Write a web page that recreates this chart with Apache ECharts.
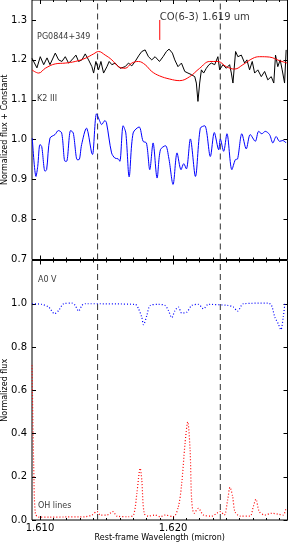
<!DOCTYPE html>
<html><head><meta charset="utf-8">
<script src="https://cdn.jsdelivr.net/npm/echarts@6/dist/echarts.min.js"></script>
<style>html,body{margin:0;padding:0;background:#fff}#c{width:289px;height:545px}</style>
</head><body><div id="c"></div>
<script>
// ---------- DATA ----------
const xMin = 1.6094, xMax = 1.6286;
const xMajorTicks = [1.610, 1.620];
const xMinorTicks = [1.610,1.611,1.612,1.613,1.614,1.615,1.616,1.617,1.618,1.619,1.620,1.621,1.622,1.623,1.624,1.625,1.626,1.627,1.628];
const yTopTicks = [0.7, 0.8, 0.9, 1.0, 1.1, 1.2, 1.3];
const yBotTicks = [0.0, 0.2, 0.4, 0.6, 0.8, 1.0];
const dashedLines = [1.61433, 1.62355];

// PG0844+349 (black)
const wavePG = [1.60940,1.60977,1.61002,1.61028,1.61053,1.61075,1.61115,1.61140,1.61165,1.61190,1.61215,1.61240,1.61270,1.61290,1.61315,1.61340,1.61365,1.61390,1.61403,1.61420,1.61440,1.61458,1.61478,1.61503,1.61520,1.61540,1.61565,1.61602,1.61640,1.61665,1.61690,1.61715,1.61745,1.61765,1.61790,1.61815,1.61840,1.61865,1.61898,1.61925,1.61950,1.61970,1.61995,1.62013,1.62037,1.62063,1.62088,1.62112,1.62138,1.62163,1.62175,1.62187,1.62200,1.62213,1.62230,1.62250,1.62270,1.62288,1.62313,1.62337,1.62350,1.62375,1.62400,1.62425,1.62438,1.62450,1.62470,1.62487,1.62513,1.62538,1.62555,1.62575,1.62595,1.62613,1.62637,1.62663,1.62688,1.62712,1.62738,1.62757,1.62770,1.62787,1.62805,1.62820,1.62838,1.62850];
const fluxPG = [1.204,1.180,1.208,1.188,1.205,1.188,1.217,1.200,1.196,1.208,1.192,1.200,1.212,1.196,1.200,1.215,1.200,1.183,1.167,1.196,1.175,1.196,1.167,1.183,1.196,1.188,1.192,1.179,1.183,1.192,1.185,1.196,1.212,1.221,1.225,1.208,1.200,1.208,1.196,1.208,1.221,1.227,1.217,1.200,1.183,1.192,1.171,1.167,1.163,1.158,1.142,1.096,1.142,1.175,1.167,1.179,1.188,1.192,1.188,1.208,1.175,1.188,1.179,1.188,1.167,1.142,1.221,1.208,1.212,1.192,1.200,1.175,1.196,1.167,1.175,1.158,1.171,1.150,1.158,1.142,1.212,1.183,1.200,1.175,1.142,1.225];

// Smoothed template (red)
const waveTpl = [1.60940,1.60990,1.61040,1.61115,1.61190,1.61265,1.61340,1.61403,1.61440,1.61490,1.61540,1.61590,1.61640,1.61690,1.61740,1.61790,1.61840,1.61898,1.61975,1.62050,1.62125,1.62200,1.62275,1.62337,1.62400,1.62463,1.62525,1.62600,1.62650,1.62725,1.62800,1.62858];
const fluxTpl = [1.175,1.167,1.179,1.190,1.192,1.196,1.204,1.215,1.221,1.212,1.200,1.183,1.179,1.192,1.196,1.188,1.171,1.160,1.152,1.148,1.158,1.179,1.196,1.196,1.183,1.177,1.188,1.204,1.208,1.207,1.198,1.192];

// K2 III (blue)
const waveK2 = [1.60942,1.60970,1.60983,1.61000,1.61013,1.61038,1.61050,1.61075,1.61113,1.61138,1.61163,1.61188,1.61200,1.61230,1.61250,1.61280,1.61293,1.61313,1.61350,1.61362,1.61388,1.61395,1.61425,1.61450,1.61463,1.61488,1.61500,1.61538,1.61563,1.61588,1.61600,1.61625,1.61645,1.61670,1.61700,1.61745,1.61775,1.61800,1.61825,1.61850,1.61880,1.61905,1.61943,1.61968,1.62000,1.62030,1.62060,1.62080,1.62100,1.62130,1.62168,1.62205,1.62238,1.62280,1.62310,1.62343,1.62355,1.62380,1.62405,1.62442,1.62468,1.62485,1.62517,1.62550,1.62580,1.62618,1.62643,1.62667,1.62693,1.62725,1.62750,1.62775,1.62800,1.62825,1.62850];
const fluxK2 = [1.004,0.908,0.933,0.988,0.983,0.921,0.925,1.004,1.013,1.023,1.017,0.946,0.946,1.023,1.017,0.950,0.950,0.988,1.029,1.017,0.967,0.963,1.065,1.046,1.038,1.048,1.042,0.967,0.954,0.952,0.946,1.035,1.017,0.907,1.017,1.032,0.996,0.992,0.925,0.992,0.904,0.975,0.985,0.954,0.888,0.967,0.925,0.940,0.927,1.002,0.908,1.029,1.035,0.958,1.018,0.975,1.002,0.971,1.015,0.925,0.950,0.952,1.015,0.977,1.013,0.996,1.021,1.015,1.021,1.013,0.992,1.008,0.996,0.998,0.992];

// A0 V (blue dotted)
const waveA0 = [1.60940,1.61015,1.61065,1.61110,1.61140,1.61178,1.61240,1.61265,1.61290,1.61315,1.61340,1.61715,1.61740,1.61765,1.61778,1.61803,1.61828,1.61890,1.61940,1.61965,1.61990,1.62015,1.62040,1.62065,1.62103,1.62140,1.62190,1.62228,1.62265,1.62415,1.62453,1.62485,1.62528,1.62715,1.62740,1.62765,1.62790,1.62810,1.62828,1.62840];
const fluxA0 = [1.000,0.997,0.985,0.954,0.969,1.000,1.003,0.992,0.966,0.992,1.000,0.997,0.977,0.938,0.903,0.946,0.992,0.997,0.992,0.969,0.936,0.969,0.985,0.957,0.961,0.992,0.997,0.977,0.997,0.992,0.985,0.966,1.000,1.003,0.992,0.938,0.908,0.880,0.938,1.000];

// OH sky lines (red dotted)
const waveOH = [1.60940,1.60953,1.60965,1.60990,1.61075,1.61188,1.61300,1.61340,1.61390,1.61428,1.61453,1.61503,1.61548,1.61578,1.61665,1.61703,1.61728,1.61753,1.61765,1.61783,1.61815,1.61865,1.61903,1.61940,1.62003,1.62040,1.62065,1.62090,1.62110,1.62128,1.62140,1.62158,1.62190,1.62228,1.62290,1.62328,1.62353,1.62385,1.62410,1.62428,1.62448,1.62465,1.62503,1.62578,1.62603,1.62623,1.62648,1.62690,1.62740,1.62790,1.62828,1.62848];
const fluxOH = [0.715,0.246,0.031,0.013,0.013,0.014,0.014,0.015,0.023,0.039,0.023,0.023,0.039,0.018,0.015,0.023,0.123,0.239,0.185,0.031,0.018,0.023,0.015,0.023,0.015,0.062,0.169,0.354,0.454,0.323,0.092,0.031,0.054,0.023,0.018,0.031,0.039,0.023,0.092,0.151,0.108,0.039,0.018,0.018,0.062,0.096,0.039,0.023,0.031,0.027,0.023,0.054];

// CO(6-3) marker
const coWave = [1.619, 1.619];
const coFlux = [1.25, 1.30];

// Text annotations (data coordinates)
const annTopText = ['PG0844+349', 'K2 III'];
const annTopX = [1.60978, 1.60978];
const annTopY = [1.2575, 1.1025];
const annBotText = ['A0 V', 'OH lines'];
const annBotX = [1.60985, 1.60985];
const annBotY = [1.112, 0.066];
const coLabel = 'CO(6-3) 1.619 um';
const coLabelPos = [1.619, 1.3075];

// ---------- CHART ----------
const zip = (a, b) => a.map((v, i) => [v, b[i]]);
const FONT = 'DejaVu Sans';
const chart = echarts.init(document.getElementById('c'), null, {renderer: 'canvas'});

function xAxis(grid, pos, ticks, len, showLabel, name) {
  return {
    type: 'value', gridIndex: grid, position: pos, min: xMin, max: xMax,
    axisLine: {show: false, onZero: false},
    splitLine: {show: false},
    axisTick: {show: true, inside: true, length: len, customValues: ticks, lineStyle: {color: '#000', width: 1}},
    axisLabel: {show: showLabel, customValues: ticks, margin: 3, color: '#000', fontFamily: FONT, fontSize: 10,
      formatter: v => v.toFixed(3)},
    name: name || '', nameLocation: 'middle', nameGap: 14, nameMoveOverlap: false,
    nameTextStyle: {color: '#000', fontFamily: FONT, fontSize: 8}
  };
}
function yAxis(grid, pos, min, max, ticks, showLabel, name) {
  return {
    type: 'value', gridIndex: grid, position: pos, min: min, max: max,
    axisLine: {show: false, onZero: false},
    splitLine: {show: false},
    axisTick: {show: true, inside: true, length: 4, customValues: ticks, lineStyle: {color: '#000', width: 1}},
    axisLabel: {show: showLabel, customValues: ticks, margin: 5, color: '#000', fontFamily: FONT, fontSize: 10,
      formatter: v => v.toFixed(1)},
    name: name || '', nameLocation: 'middle', nameGap: 23, nameRotate: 90, nameMoveOverlap: false,
    nameTextStyle: {color: '#000', fontFamily: FONT, fontSize: 8}
  };
}

function dashSeries(xi, yi, yLo, yHi) {
  return dashedLines.map(v => ({
    type: 'line', xAxisIndex: xi, yAxisIndex: yi, symbol: 'none', silent: true,
    data: [[v, yLo], [v, yHi]],
    lineStyle: {color: '#333', type: [6, 4], width: 1}, z: 2
  }));
}

function annSeries(xi, yi, xs, ys, texts, size) {
  return {
    type: 'scatter', xAxisIndex: xi, yAxisIndex: yi, symbolSize: 0, silent: true,
    data: xs.map((v, i) => ({value: [v, ys[i]], name: texts[i]})),
    label: {show: true, position: 'right', distance: 0, formatter: p => p.name,
      color: '#000', fontFamily: FONT, fontSize: size}
  };
}

const gridBase = {left: 32, width: 255.5, height: 259.5, show: true, borderColor: '#000', borderWidth: 1,
  backgroundColor: 'transparent', containLabel: false, outerBoundsMode: 'none'};

chart.setOption({
  animation: false,
  backgroundColor: '#fff',
  grid: [
    Object.assign({top: 0}, gridBase),
    Object.assign({top: 260.5}, gridBase)
  ],
  xAxis: [
    xAxis(0, 'bottom', xMajorTicks, 4, false),
    xAxis(0, 'top', xMajorTicks, 4, false),
    xAxis(0, 'bottom', xMinorTicks, 2, false),
    xAxis(0, 'top', xMinorTicks, 2, false),
    xAxis(1, 'bottom', xMajorTicks, 4, true, 'Rest-frame Wavelength (micron)'),
    xAxis(1, 'top', xMajorTicks, 4, false),
    xAxis(1, 'bottom', xMinorTicks, 2, false),
    xAxis(1, 'top', xMinorTicks, 2, false)
  ],
  yAxis: [
    yAxis(0, 'left', 0.7, 1.35, yTopTicks, true, 'Normalized flux + Constant'),
    yAxis(0, 'right', 0.7, 1.35, yTopTicks, false),
    yAxis(1, 'left', 0, 1.2, yBotTicks, true, 'Normalized flux'),
    yAxis(1, 'right', 0, 1.2, yBotTicks, false)
  ],
  series: [
    ...dashSeries(0, 0, 0.7, 1.35),
    ...dashSeries(4, 2, 0, 1.2),
    {type: 'line', xAxisIndex: 0, yAxisIndex: 0, data: zip(wavePG, fluxPG), symbol: 'none',
      lineStyle: {color: '#000', width: 1}, z: 3},
    {type: 'line', xAxisIndex: 0, yAxisIndex: 0, data: zip(waveTpl, fluxTpl), symbol: 'none', smooth: 0.4,
      lineStyle: {color: '#ff0000', width: 1}, z: 4},
    {type: 'line', xAxisIndex: 0, yAxisIndex: 0, data: zip(waveK2, fluxK2), symbol: 'none', smooth: 0.3,
      lineStyle: {color: '#0000ff', width: 1}, z: 3},
    {type: 'line', xAxisIndex: 0, yAxisIndex: 0, data: zip(coWave, coFlux), symbol: 'none',
      lineStyle: {color: '#ff0000', width: 1}, z: 4},
    annSeries(0, 0, annTopX, annTopY, annTopText, 8),
    annSeries(0, 0, [coLabelPos[0]], [coLabelPos[1]], [coLabel], 10),
    {type: 'line', xAxisIndex: 4, yAxisIndex: 2, data: zip(waveA0, fluxA0), symbol: 'none', smooth: 0.3,
      lineStyle: {color: '#0000ff', width: 1.2, type: [1, 2]}, z: 3},
    {type: 'line', xAxisIndex: 4, yAxisIndex: 2, data: zip(waveOH, fluxOH), symbol: 'none', smooth: 0.3,
      lineStyle: {color: '#ff0000', width: 1.2, type: [1, 2]}, z: 3},
    annSeries(4, 2, annBotX, annBotY, annBotText, 8)
  ]
});
</script></body></html>
